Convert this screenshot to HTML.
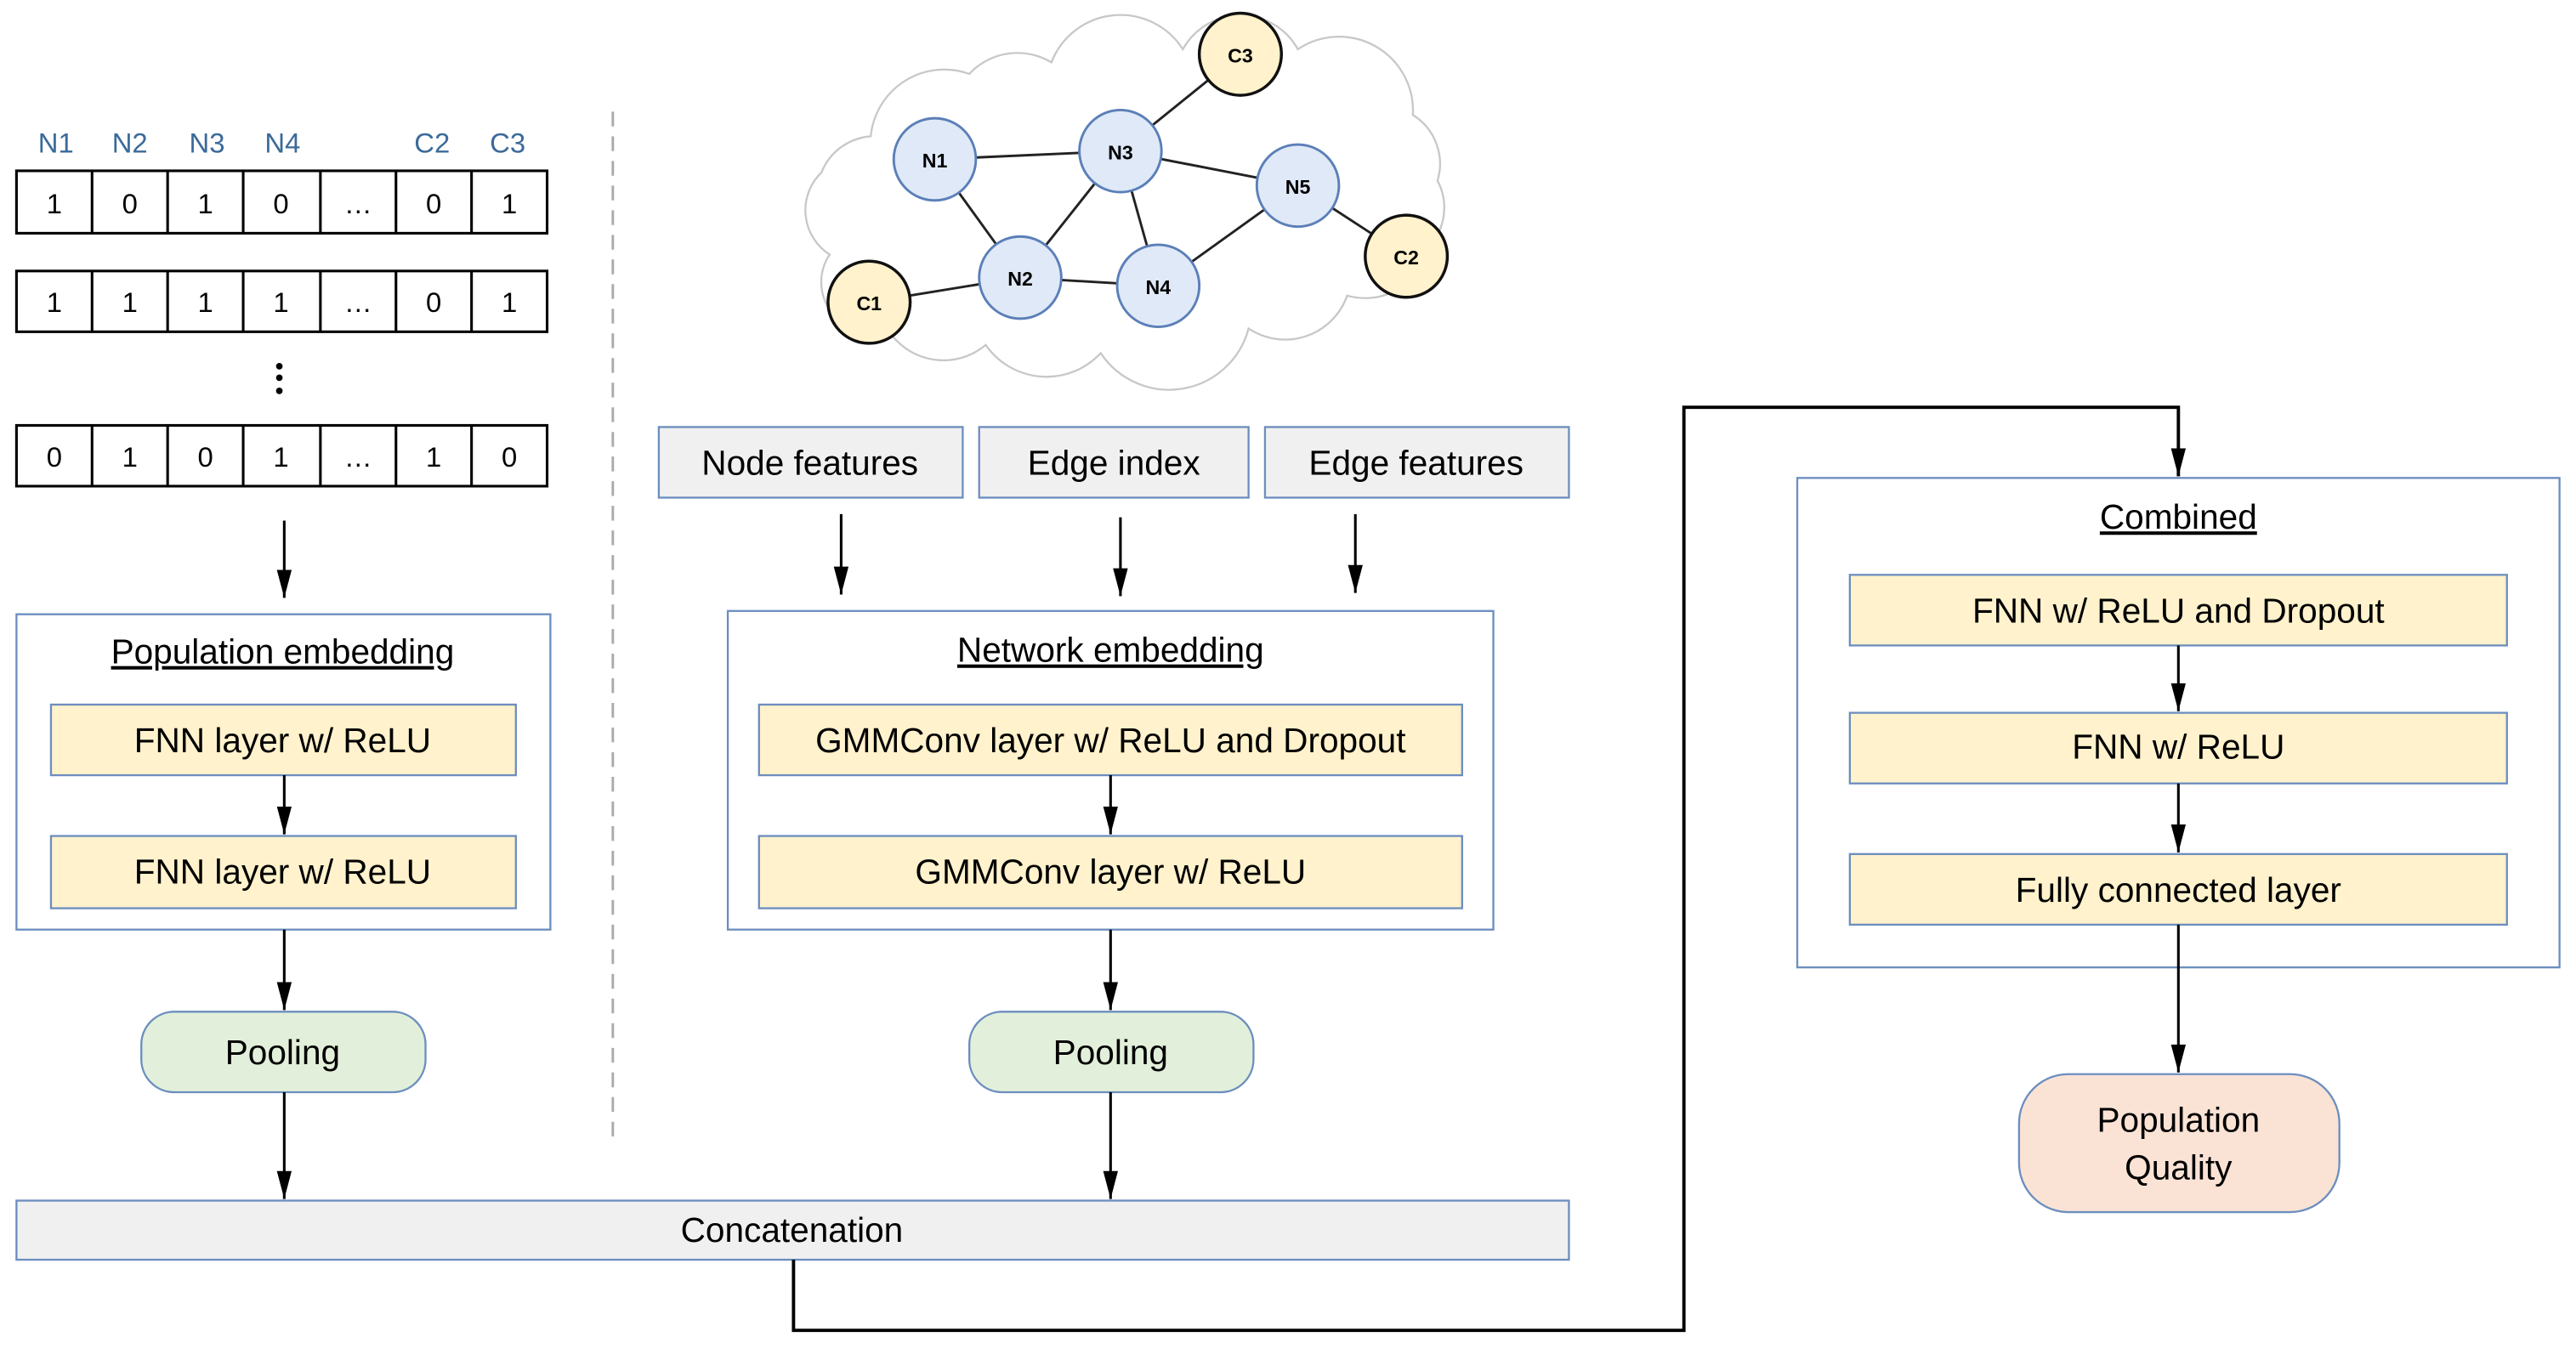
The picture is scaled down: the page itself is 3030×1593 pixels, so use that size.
<!DOCTYPE html>
<html><head><meta charset="utf-8"><style>html,body{margin:0;padding:0;background:#fff}svg{display:block}</style></head><body>
<svg width="3030" height="1593" viewBox="0 0 1568 824.4" xmlns="http://www.w3.org/2000/svg" font-family="Liberation Sans, sans-serif">
<defs><marker id="a" viewBox="0 0 10 10" refX="10" refY="5" markerWidth="17" markerHeight="9" markerUnits="userSpaceOnUse" orient="auto" preserveAspectRatio="none"><path d="M0,0L10,5L0,10z" fill="#000"/></marker></defs>
<rect width="1568" height="825" fill="#fff"/>
<g fill="#3a6a9a" font-size="17" text-anchor="middle">
<text x="34" y="93">N1</text><text x="79" y="93">N2</text><text x="126" y="93">N3</text><text x="172" y="93">N4</text><text x="263" y="93">C2</text><text x="309" y="93">C3</text></g>
<g stroke="#000" stroke-width="1.6" fill="#fff">
<rect x="10" y="104" width="323" height="38"/><rect x="10" y="165" width="323" height="37"/><rect x="10" y="259" width="323" height="37"/>
<path d="M56,104V142M102,104V142M148,104V142M195,104V142M241,104V142M287,104V142M56,165V202M102,165V202M148,165V202M195,165V202M241,165V202M287,165V202M56,259V296M102,259V296M148,259V296M195,259V296M241,259V296M287,259V296"/></g>
<g font-size="17" text-anchor="middle">
<text x="33" y="130">1</text><text x="79" y="130">0</text><text x="125" y="130">1</text><text x="171" y="130">0</text><text x="218" y="130">…</text><text x="264" y="130">0</text><text x="310" y="130">1</text>
<text x="33" y="190">1</text><text x="79" y="190">1</text><text x="125" y="190">1</text><text x="171" y="190">1</text><text x="218" y="190">…</text><text x="264" y="190">0</text><text x="310" y="190">1</text>
<text x="33" y="284">0</text><text x="79" y="284">1</text><text x="125" y="284">0</text><text x="171" y="284">1</text><text x="218" y="284">…</text><text x="264" y="284">1</text><text x="310" y="284">0</text></g>
<circle cx="170" cy="223" r="2"/><circle cx="170" cy="230" r="2"/><circle cx="170" cy="238" r="2"/>
<line x1="373" y1="68" x2="373" y2="698" stroke="#aaa" stroke-width="1.5" stroke-dasharray="9,6"/>
<path d="M505,155 A32,32 0 0 1 500,105 A35,35 0 0 1 530,83 A45,45 0 0 1 590,45 A40,40 0 0 1 640,38 A45,45 0 0 1 720,30 A40,40 0 0 1 790,30 A45,45 0 0 1 860,70 A35,35 0 0 1 875,110 A35,35 0 0 1 870,150 A40,40 0 0 1 820,180 A40,40 0 0 1 760,200 A50,50 0 0 1 670,215 A45,45 0 0 1 600,210 A40,40 0 0 1 540,200 A30,30 0 0 1 505,155 Z" fill="#fff" stroke="#c8c8c8" stroke-width="1.2"/>
<g stroke="#222" stroke-width="1.5">
<line x1="569" y1="97" x2="682" y2="92"/><line x1="682" y1="92" x2="755" y2="33"/><line x1="682" y1="92" x2="790" y2="113"/><line x1="569" y1="97" x2="621" y2="169"/><line x1="621" y1="169" x2="682" y2="92"/><line x1="682" y1="92" x2="705" y2="174"/><line x1="621" y1="169" x2="705" y2="174"/><line x1="705" y1="174" x2="790" y2="113"/><line x1="790" y1="113" x2="856" y2="156"/><line x1="529" y1="184" x2="621" y2="169"/></g>
<g stroke="#5b7fb8" stroke-width="1.5" fill="#dfe9f7">
<circle cx="569" cy="97" r="25"/><circle cx="682" cy="92" r="25"/><circle cx="790" cy="113" r="25"/><circle cx="621" cy="169" r="25"/><circle cx="705" cy="174" r="25"/></g>
<g stroke="#111" stroke-width="1.8" fill="#fff2cc">
<circle cx="755" cy="33" r="25"/><circle cx="529" cy="184" r="25"/><circle cx="856" cy="156" r="25"/></g>
<g font-size="12" font-weight="bold" text-anchor="middle">
<text x="569" y="102">N1</text><text x="682" y="97">N3</text><text x="790" y="118">N5</text><text x="621" y="174">N2</text><text x="705" y="179">N4</text><text x="755" y="38">C3</text><text x="529" y="189">C1</text><text x="856" y="161">C2</text></g>
<g stroke="#6c8ebf" stroke-width="1.2">
<rect x="10" y="374" width="325" height="192" fill="#fff"/>
<rect x="443" y="372" width="466" height="194" fill="#fff"/>
<rect x="1094" y="291" width="464" height="298" fill="#fff"/>
<g fill="#f0f0f0"><rect x="401" y="260" width="185" height="43"/><rect x="596" y="260" width="164" height="43"/><rect x="770" y="260" width="185" height="43"/><rect x="10" y="731" width="945" height="36"/></g>
<g fill="#fff2cc"><rect x="31" y="429" width="283" height="43"/><rect x="31" y="509" width="283" height="44"/><rect x="462" y="429" width="428" height="43"/><rect x="462" y="509" width="428" height="44"/><rect x="1126" y="350" width="400" height="43"/><rect x="1126" y="434" width="400" height="43"/><rect x="1126" y="520" width="400" height="43"/></g>
<g fill="#e2efda"><rect x="86" y="616" width="173" height="49" rx="20"/><rect x="590" y="616" width="173" height="49" rx="20"/></g>
<rect x="1229" y="654" width="195" height="84" rx="30" fill="#fae3d5"/>
</g>
<g font-size="21" text-anchor="middle">
<text x="172" y="404" text-decoration="underline">Population embedding</text>
<text x="676" y="403" text-decoration="underline">Network embedding</text>
<text x="1326" y="322" text-decoration="underline">Combined</text>
<text x="493" y="289">Node features</text><text x="678" y="289">Edge index</text><text x="862" y="289">Edge features</text>
<text x="172" y="458">FNN layer w/ ReLU</text><text x="172" y="538">FNN layer w/ ReLU</text>
<text x="676" y="458">GMMConv layer w/ ReLU and Dropout</text><text x="676" y="538">GMMConv layer w/ ReLU</text>
<text x="172" y="648">Pooling</text><text x="676" y="648">Pooling</text>
<text x="482" y="756">Concatenation</text>
<text x="1326" y="379">FNN w/ ReLU and Dropout</text><text x="1326" y="462">FNN w/ ReLU</text><text x="1326" y="549">Fully connected layer</text>
<text x="1326" y="689">Population</text><text x="1326" y="718">Quality</text></g>
<g stroke="#000" stroke-width="1.6" fill="none" marker-end="url(#a)">
<path d="M173,317V364"/><path d="M173,472V508"/><path d="M173,566V615"/><path d="M173,665V730"/>
<path d="M512,313V362"/><path d="M682,315V363"/><path d="M825,313V361"/>
<path d="M676,472V508"/><path d="M676,566V615"/><path d="M676,665V730"/>
<path d="M483,767V810H1025V248H1326V290" stroke-width="2"/>
<path d="M1326,393V433"/><path d="M1326,477V519"/><path d="M1326,563V653"/>
</g>
</svg>
</body></html>
